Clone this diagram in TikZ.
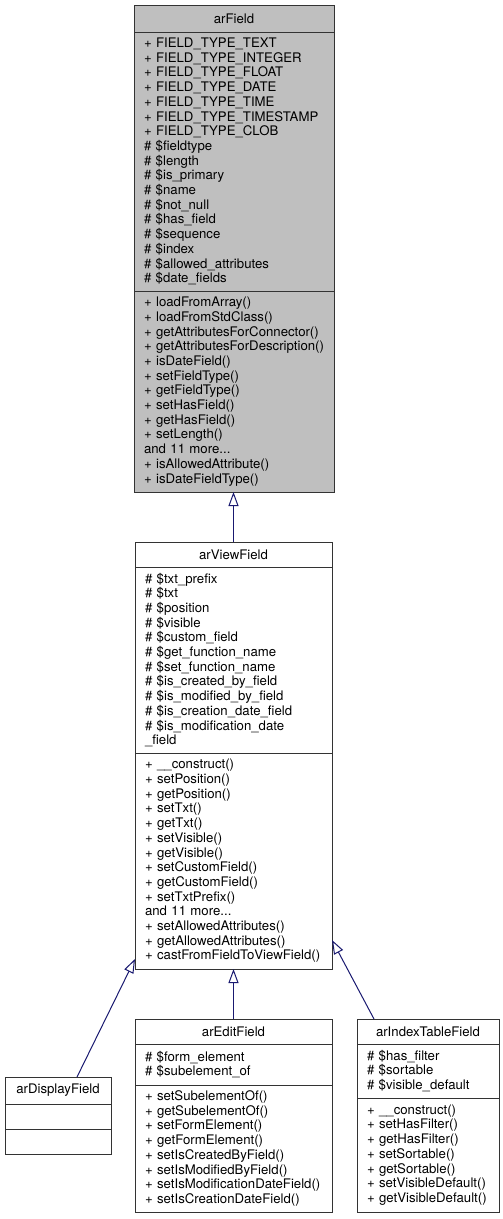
\documentclass[tikz,border=0pt]{standalone}
\usepackage{fontspec}
\setmainfont{TeX Gyre Heros}
\usetikzlibrary{arrows.meta,positioning}
\definecolor{edgeblue}{RGB}{25,25,112}
\definecolor{basegray}{RGB}{191,191,191}

\begin{document}
\begin{tikzpicture}[
  x=1pt, y=-1pt,
  font=\fontsize{13.2}{14.7}\selectfont,
  hd/.style={draw=black!80, line width=1pt, outer sep=0pt, inner sep=0pt, align=center},
  sec/.style={draw=black!80, line width=1pt, outer sep=0pt, inner xsep=10pt, inner ysep=0pt, align=left},
  inh/.style={-{Triangle[open, length=14pt, width=10pt]}, draw=edgeblue, line width=1pt}
]
\useasboundingbox (0,0) rectangle (503,1219);

% base class
\node[hd, fill=basegray, minimum width=200pt, minimum height=27pt, anchor=north] (field) at (234,5) {arField};
\node[sec, fill=basegray, text width=180pt, minimum height=259pt, below=0pt of field] (fieldattr)
  {+ FIELD\_TYPE\_TEXT\\+ FIELD\_TYPE\_INTEGER\\+ FIELD\_TYPE\_FLOAT\\+ FIELD\_TYPE\_DATE\\
   + FIELD\_TYPE\_TIME\\+ FIELD\_TYPE\_TIMESTAMP\\+ FIELD\_TYPE\_CLOB\\\# \$fieldtype\\
   \# \$length\\\# \$is\_primary\\\# \$name\\\# \$not\_null\\\# \$has\_field\\\# \$sequence\\
   \# \$index\\\# \$allowed\_attributes\\\# \$date\_fields};
\node[sec, fill=basegray, text width=180pt, minimum height=201pt, below=0pt of fieldattr] (fieldops)
  {+ loadFromArray()\\+ loadFromStdClass()\\+ getAttributesForConnector()\\
   + getAttributesForDescription()\\+ isDateField()\\+ setFieldType()\\+ getFieldType()\\
   + setHasField()\\+ getHasField()\\+ setLength()\\and 11 more...\\+ isAllowedAttribute()\\
   + isDateFieldType()};

% view field
\node[hd, minimum width=197pt, minimum height=25pt, anchor=north] (view) at (233.5,542) {arViewField};
\node[sec, text width=177pt, minimum height=186pt, below=0pt of view] (viewattr)
  {\# \$txt\_prefix\\\# \$txt\\\# \$position\\\# \$visible\\\# \$custom\_field\\
   \# \$get\_function\_name\\\# \$set\_function\_name\\\# \$is\_created\_by\_field\\
   \# \$is\_modified\_by\_field\\\# \$is\_creation\_date\_field\\\# \$is\_modification\_date\\
   \_field};
\node[sec, text width=177pt, minimum height=216pt, below=0pt of viewattr] (viewops)
  {+ \_\_construct()\\+ setPosition()\\+ getPosition()\\+ setTxt()\\+ getTxt()\\
   + setVisible()\\+ getVisible()\\+ setCustomField()\\+ getCustomField()\\+ setTxtPrefix()\\
   and 11 more...\\+ setAllowedAttributes()\\+ getAllowedAttributes()\\
   + castFromFieldToViewField()};

% subclasses
\node[hd, minimum width=106pt, minimum height=27pt, anchor=north] (display) at (58,1077) {arDisplayField};
\node[sec, text width=86pt, minimum height=25pt, below=0pt of display] (displayattr) {};
\node[sec, text width=86pt, minimum height=25pt, below=0pt of displayattr] (displayops) {};

\node[hd, minimum width=197pt, minimum height=25pt, anchor=north] (edit) at (233.5,1019) {arEditField};
\node[sec, text width=177pt, minimum height=41pt, below=0pt of edit] (editattr)
  {\# \$form\_element\\\# \$subelement\_of};
\node[sec, text width=177pt, minimum height=127pt, below=0pt of editattr] (editops)
  {+ setSubelementOf()\\+ getSubelementOf()\\+ setFormElement()\\+ getFormElement()\\
   + setIsCreatedByField()\\+ setIsModifiedByField()\\+ setIsModificationDateField()\\
   + setIsCreationDateField()};

\node[hd, minimum width=142pt, minimum height=25pt, anchor=north] (index) at (428,1019) {arIndexTableField};
\node[sec, text width=122pt, minimum height=54pt, below=0pt of index] (indexattr)
  {\# \$has\_filter\\\# \$sortable\\\# \$visible\_default};
\node[sec, text width=122pt, minimum height=114pt, below=0pt of indexattr] (indexops)
  {+ \_\_construct()\\+ setHasFilter()\\+ getHasFilter()\\+ setSortable()\\+ getSortable()\\
   + setVisibleDefault()\\+ getVisibleDefault()};

% inheritance
\draw[inh] (view.north) -- (view.north |- fieldops.south);
\draw[inh] (edit.north) -- (edit.north |- viewops.south);
\draw[inh] ([xshift=19pt]display.north) -- ([yshift=10pt]viewops.south west);
\draw[inh] ([xshift=-54pt]index.north) -- ([yshift=29pt]viewops.south east);
\end{tikzpicture}
\end{document}
